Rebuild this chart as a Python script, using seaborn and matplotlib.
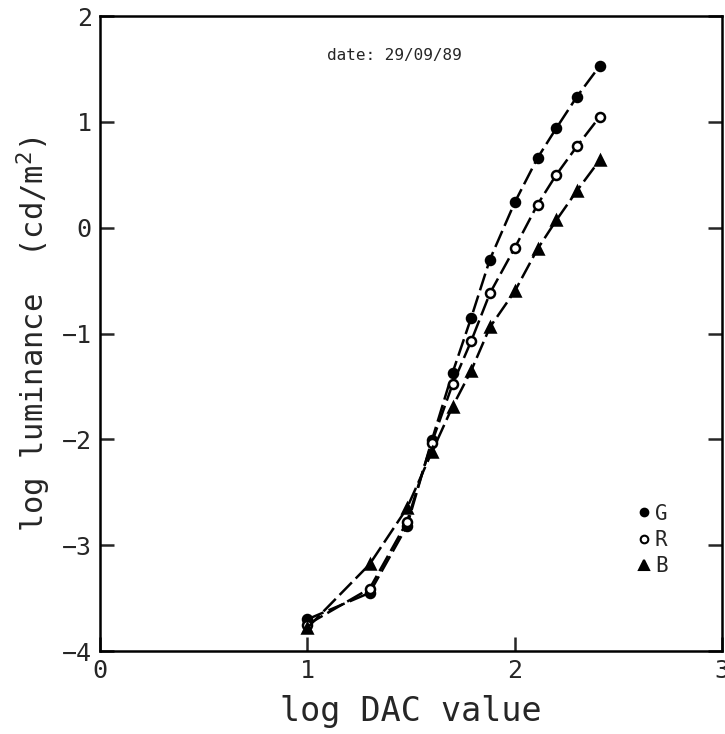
import pandas as pd
import matplotlib
matplotlib.use('Agg')
import matplotlib.pyplot as plt
from matplotlib.lines import Line2D
import seaborn as sns

# log DAC values (DAC 10 .. 255)
log_dac = [1.0, 1.3, 1.48, 1.6, 1.7, 1.79, 1.88, 2.0, 2.11, 2.2, 2.3, 2.41]

# log luminance per gun
lum_G = [-3.70, -3.45, -2.82, -2.01, -1.37, -0.85, -0.30, 0.24, 0.66, 0.94, 1.24, 1.53]
lum_R = [-3.75, -3.41, -2.78, -2.03, -1.48, -1.07, -0.62, -0.19, 0.22, 0.50, 0.77, 1.05]
lum_B = [-3.78, -3.18, -2.65, -2.12, -1.69, -1.35, -0.94, -0.60, -0.20, 0.07, 0.35, 0.64]

guns = ['G', 'R', 'B']
x_ticks = [0, 1, 2, 3]
y_ticks = [-4, -3, -2, -1, 0, 1, 2]

df = pd.DataFrame({'log_dac': log_dac * 3,
                   'lum': lum_G + lum_R + lum_B,
                   'gun': [g for g in guns for _ in log_dac]})

sns.set_style('white')
plt.rcParams['font.family'] = ['DejaVu Sans Mono', 'DejaVu Sans']

fig = plt.figure(figsize=(7.25, 7.34), dpi=100)
ax = fig.add_axes([0.138, 0.113, 0.858, 0.865])

styles = {'G': dict(marker='o', markerfacecolor='black', markersize=6.5),
          'R': dict(marker='o', markerfacecolor='white', markersize=6.5),
          'B': dict(marker='^', markerfacecolor='black', markersize=7.5)}

for g in guns:
    sns.lineplot(ax=ax, data=df[df.gun == g], x='log_dac', y='lum',
                 color='black', linewidth=1.8, linestyle=(0, (7, 2.2)),
                 markeredgecolor='black', markeredgewidth=1.8,
                 **styles[g])

ax.set_xlim(0, 3)
ax.set_ylim(-4, 2)
ax.set_xticks(x_ticks)
ax.set_yticks(y_ticks)
ax.set_xticklabels([str(t) for t in x_ticks])
ax.set_yticklabels([str(t).replace('-', '\u2212') for t in y_ticks])
ax.tick_params(direction='in', length=10, width=1.8, labelsize=18,
               left=True, right=True, bottom=True, top=False, pad=6)

for s in ax.spines.values():
    s.set_linewidth(1.8)
    s.set_color('black')

ax.set_xlabel('log DAC value', fontsize=24, labelpad=8)
ax.set_ylabel('log luminance  (cd/m$^2$)', fontsize=22, labelpad=6)

ax.text(1.42, 1.63, 'date: 29/09/89', fontsize=11.5, ha='center', va='center')

handles = [Line2D([], [], linestyle='none', color='black',
                  markeredgecolor='black', markeredgewidth=1.5,
                  **{k: (v - 1 if k == 'markersize' else v) for k, v in styles[g].items()})
           for g in guns]
ax.legend(handles, guns, loc='center left', bbox_to_anchor=(0.835, 0.175),
          frameon=False, handlelength=0.6, handletextpad=0.2, labelspacing=0.3,
          fontsize=15)

fig.savefig('out.png', dpi=100)
